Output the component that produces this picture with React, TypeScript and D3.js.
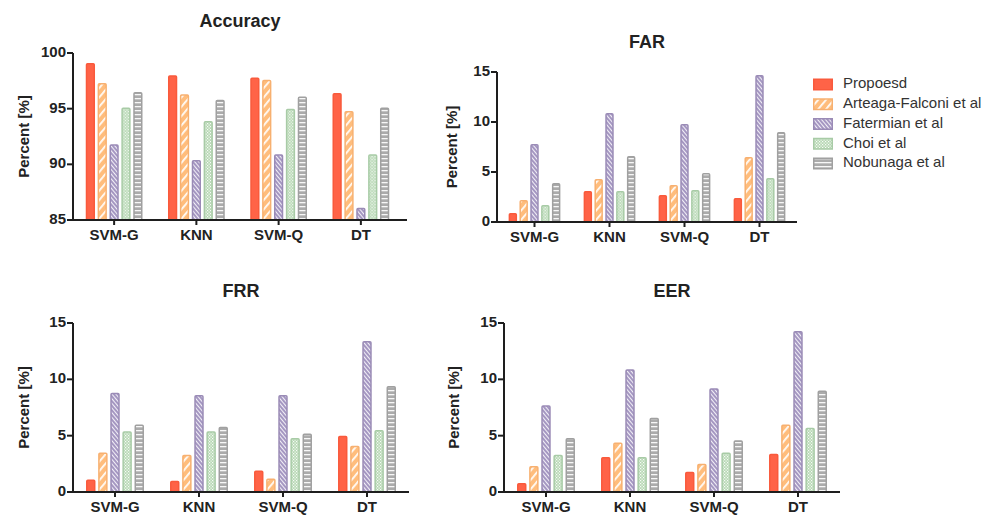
import React from 'react';
import * as d3 from 'd3';

const categories = ['SVM-G', 'KNN', 'SVM-Q', 'DT'];
const seriesNames = ['Propoesd', 'Arteaga-Falconi et al', 'Fatermian et al', 'Choi et al', 'Nobunaga et al'];

// rows = categories, cols = series
const accuracyValues = [
  [99.1, 97.3, 91.8, 95.1, 96.5],
  [98.0, 96.3, 90.4, 93.9, 95.8],
  [97.8, 97.6, 90.9, 95.0, 96.1],
  [96.4, 94.8, 86.1, 90.9, 95.1],
];
const farValues = [
  [0.9, 2.2, 7.8, 1.7, 3.9],
  [3.1, 4.3, 10.9, 3.1, 6.6],
  [2.7, 3.7, 9.8, 3.2, 4.9],
  [2.4, 6.5, 14.7, 4.4, 9.0],
];
const frrValues = [
  [1.1, 3.5, 8.8, 5.4, 6.0],
  [1.0, 3.3, 8.6, 5.4, 5.8],
  [1.9, 1.2, 8.6, 4.8, 5.2],
  [5.0, 4.1, 13.4, 5.5, 9.4],
];
const eerValues = [
  [0.8, 2.3, 7.7, 3.3, 4.8],
  [3.1, 4.4, 10.9, 3.1, 6.6],
  [1.8, 2.5, 9.2, 3.5, 4.6],
  [3.4, 6.0, 14.3, 5.7, 9.0],
];
const accuracyTicks = [85, 90, 95, 100];
const rateTicks = [0, 5, 10, 15];

const strokeColors = ['#F95A3C', '#F7B070', '#9A8BB6', '#A8CBA6', '#A0A0A0'];
const fills = ['#FF6347', 'url(#pOrange)', 'url(#pPurple)', 'url(#pGreen)', 'url(#pGray)'];

const FONT = '"Liberation Sans", Arial, sans-serif';
const AXIS = '#1e1e1e';

type PanelProps = {
  title: string;
  values: number[][];
  domain: [number, number];
  ticks: number[];
  x0: number;
  x1: number;
  axisEnd: number;
  yTop: number;
  yBottom: number;
  titleY: number;
  labelX: number;
};

function Panel(p: PanelProps) {
  const xOuter = d3.scaleBand<string>().domain(categories).range([p.x0, p.x1]).paddingInner(0.31).paddingOuter(0.155);
  const xInner = d3.scaleBand<string>().domain(seriesNames).range([0, xOuter.bandwidth()]).paddingInner(0.22).paddingOuter(0);
  const y = d3.scaleLinear().domain(p.domain).range([p.yBottom, p.yTop]);
  const bw = xInner.bandwidth();
  return (
    <g>
      <text x={(p.x0 + p.axisEnd) / 2} y={p.titleY} textAnchor="middle" fontFamily={FONT} fontWeight="bold" fontSize={18} fill="#222">{p.title}</text>
      <text transform={`translate(${p.labelX},${(p.yTop + p.yBottom) / 2}) rotate(-90)`} textAnchor="middle" dominantBaseline="middle" fontFamily={FONT} fontWeight="bold" fontSize={15} fill="#222">Percent [%]</text>
      {p.values.map((row, ci) => (
        <g key={ci} transform={`translate(${xOuter(categories[ci])},0)`}>
          {row.map((v, si) => {
            const top = y(v);
            return (
              <rect key={si} x={(xInner(seriesNames[si]) as number) + 0.75} y={top + 0.75} width={bw - 1.5} height={Math.max(0, p.yBottom - top - 0.75)}
                fill={fills[si]} stroke={strokeColors[si]} strokeWidth={1.5} rx={1} />
            );
          })}
        </g>
      ))}
      <line x1={p.x0} x2={p.x0} y1={p.yTop} y2={p.yBottom} stroke={AXIS} strokeWidth={2} />
      <line x1={p.x0 - 1} x2={p.axisEnd} y1={p.yBottom} y2={p.yBottom} stroke={AXIS} strokeWidth={2} />
      {p.ticks.map((t) => (
        <g key={t}>
          <line x1={p.x0 - 6} x2={p.x0} y1={y(t)} y2={y(t)} stroke={AXIS} strokeWidth={2} />
          <text x={p.x0 - 7} y={y(t)} textAnchor="end" dominantBaseline="middle" fontFamily={FONT} fontWeight="bold" fontSize={15} fill="#222">{t}</text>
        </g>
      ))}
      {categories.map((c) => {
        const cx = (xOuter(c) as number) + xOuter.bandwidth() / 2;
        return (
          <g key={c}>
            <line x1={cx} x2={cx} y1={p.yBottom} y2={p.yBottom + 5} stroke={AXIS} strokeWidth={2} />
            <text x={cx} y={p.yBottom + 20} textAnchor="middle" fontFamily={FONT} fontWeight="bold" fontSize={15} fill="#222">{c}</text>
          </g>
        );
      })}
    </g>
  );
}

export default function App() {
  const legendY = d3.scaleLinear().domain([0, 4]).range([84.5, 163.5]);
  return (
    <svg width={995} height={515} style={{ position: 'absolute', left: 0, top: 0, background: '#fff' }}>
      <defs>
        <pattern id="pOrange" patternUnits="userSpaceOnUse" width={6} height={6} patternTransform="rotate(40)">
          <rect width={6} height={6} fill="#FFBD7C" />
          <rect x={0} y={0} width={1.8} height={6} fill="#fff" opacity={0.95} />
        </pattern>
        <pattern id="pPurple" patternUnits="userSpaceOnUse" width={3} height={3} patternTransform="rotate(-40)">
          <rect width={3} height={3} fill="#A597C2" />
          <rect x={0} y={0} width={1} height={3} fill="#fff" opacity={0.85} />
        </pattern>
        <pattern id="pGreen" patternUnits="userSpaceOnUse" width={3} height={3}>
          <rect width={3} height={3} fill="#B7D8B4" />
          <rect x={0} y={0} width={1.2} height={1.2} fill="#fff" opacity={0.9} />
          <rect x={1.5} y={1.5} width={1.2} height={1.2} fill="#fff" opacity={0.9} />
        </pattern>
        <pattern id="pGray" patternUnits="userSpaceOnUse" width={4} height={4}>
          <rect width={4} height={4} fill="#ABABAB" />
          <rect x={0} y={2} width={4} height={1.3} fill="#fff" opacity={0.9} />
        </pattern>
      </defs>
      <Panel title="Accuracy" values={accuracyValues} domain={[85, 100]} ticks={accuracyTicks} x0={73} x1={402} axisEnd={407} yTop={53} yBottom={220} titleY={27} labelX={25} />
      <Panel title="FAR" values={farValues} domain={[0, 15]} ticks={rateTicks} x0={497} x1={797} axisEnd={797} yTop={72} yBottom={222} titleY={48} labelX={453} />
      <Panel title="FRR" values={frrValues} domain={[0, 15]} ticks={rateTicks} x0={73} x1={409} axisEnd={409} yTop={323} yBottom={492} titleY={297} labelX={25} />
      <Panel title="EER" values={eerValues} domain={[0, 15]} ticks={rateTicks} x0={504} x1={840} axisEnd={840} yTop={323} yBottom={492} titleY={297} labelX={455} />
      {seriesNames.map((s, i) => (
        <g key={s}>
          <rect x={813.75} y={legendY(i) - 5.25} width={18.5} height={10.5} fill={fills[i]} stroke={strokeColors[i]} strokeWidth={1.5} />
          <text x={843} y={legendY(i)} dominantBaseline="middle" fontFamily={FONT} fontSize={15} fill="#333">{s}</text>
        </g>
      ))}
    </svg>
  );
}
